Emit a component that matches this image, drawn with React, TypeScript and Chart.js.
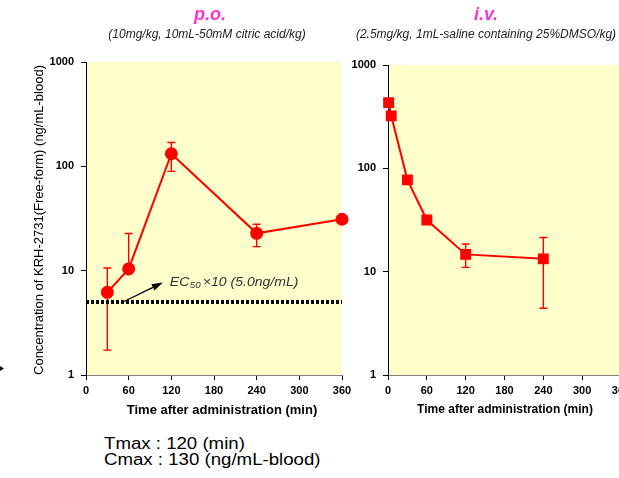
import React, { useEffect, useRef } from 'react';
import { Chart, registerables } from 'chart.js';

Chart.register(...registerables);

const FONT = "'Liberation Sans', Arial, Helvetica, sans-serif";

// ---- data ----
const xTicks = [0, 60, 120, 180, 240, 300, 360];
const yTicks = [1, 10, 100, 1000];

const poTime = [30, 60, 120, 240, 360];
const poConc = [6.2, 10.4, 132, 22.8, 31.1];
const poErrHigh = [10.6, 22.7, 169, 27.9, null];
const poErrLow = [1.73, null, 89.5, 17.0, null];

const ivTime = [1, 5, 30, 60, 120, 240];
const ivConc = [432, 322, 77.4, 31.6, 14.7, 13.3];
const ivErrHigh = [null, null, null, null, 18.5, 21.4];
const ivErrLow = [null, null, null, null, 11.0, 4.42];

const ec50Level = 5.0;
const ec50Span = [0, 360];
const ec50ArrowFrom = [52, 5.0];
const ec50ArrowTo = [108, 7.7];

const poTitle = 'p.o.';
const poSubtitle = '(10mg/kg, 10mL-50mM citric acid/kg)';
const ivTitle = 'i.v.';
const ivSubtitle = '(2.5mg/kg, 1mL-saline containing 25%DMSO/kg)';
const xTitle = 'Time after administration (min)';
const yTitle = 'Concentration of KRH-2731(Free-form) (ng/mL-blood)';
const summaryLines = ['Tmax : 120 (min)', 'Cmax : 130 (ng/mL-blood)'];

const RED = '#FF0000';
const MAGENTA = '#FF33CC';
const PLOT_BG = '#FFFFCC';

function text(ctx: CanvasRenderingContext2D, s: string, x: number, y: number, font: string, color: string, align: CanvasTextAlign = 'center') {
  ctx.save();
  ctx.font = font;
  ctx.fillStyle = color;
  ctx.textAlign = align;
  ctx.textBaseline = 'middle';
  ctx.fillText(s, x, y);
  ctx.restore();
}

const bgPlugin = {
  id: 'plotBg',
  beforeDraw(chart: any) {
    const { ctx, chartArea: a } = chart;
    ctx.save();
    ctx.fillStyle = PLOT_BG;
    ctx.fillRect(a.left + 1, a.top, a.right - a.left - 1, a.bottom - a.top);
    ctx.restore();
  },
};

const errorBarPlugin = {
  id: 'errBars',
  beforeDatasetsDraw(chart: any) {
    const { ctx } = chart;
    const ys = chart.scales.y;
    chart.data.datasets.forEach((ds: any, i: number) => {
      if (!ds.errHigh) return;
      const meta = chart.getDatasetMeta(i);
      ctx.save();
      ctx.strokeStyle = RED;
      ctx.lineWidth = 1.4;
      ctx.setLineDash([]);
      meta.data.forEach((pt: any, j: number) => {
        const x = pt.x;
        const yc = pt.y;
        const ends = [ds.errHigh[j], ds.errLow[j]];
        ends.forEach((v: any) => {
          if (v == null) return;
          const ye = ys.getPixelForValue(v);
          ctx.beginPath();
          ctx.moveTo(x, yc);
          ctx.lineTo(x, ye);
          ctx.moveTo(x - 4, ye);
          ctx.lineTo(x + 4, ye);
          ctx.stroke();
        });
      });
      ctx.restore();
    });
  },
};

function scalesFor(yWidth: number, xHeight: number) {
  return {
    x: {
      type: 'linear',
      min: 0,
      max: 360,
      afterBuildTicks: (s: any) => {
        s.ticks = xTicks.map((v) => ({ value: v }));
      },
      afterFit: (s: any) => {
        s.height = xHeight;
      },
      ticks: {
        autoSkip: false,
        maxRotation: 0,
        color: '#000',
        padding: 4,
        font: { family: FONT, size: 11, weight: 'bold' },
        callback: (v: any) => String(v),
      },
      grid: { drawOnChartArea: false, tickLength: 5, color: '#000', lineWidth: 1 },
      border: { display: true, color: '#808080', width: 1 },
    },
    y: {
      type: 'logarithmic',
      min: 1,
      max: 1000,
      afterBuildTicks: (s: any) => {
        s.ticks = yTicks.map((v) => ({ value: v }));
      },
      afterFit: (s: any) => {
        s.width = yWidth;
      },
      ticks: {
        autoSkip: false,
        color: '#000',
        padding: 7,
        font: { family: FONT, size: 11, weight: 'bold' },
        callback: (v: any) => String(v),
      },
      grid: { drawOnChartArea: false, tickLength: 5, color: '#000', lineWidth: 1 },
      border: { display: true, color: '#000', width: 1 },
    },
  };
}

export default function App() {
  const leftRef = useRef<HTMLCanvasElement>(null);
  const rightRef = useRef<HTMLCanvasElement>(null);

  useEffect(() => {
    const leftDecor = {
      id: 'leftDecor',
      afterDraw(chart: any) {
        const { ctx } = chart;
        const xs = chart.scales.x;
        const ys = chart.scales.y;
        text(ctx, poTitle, 210, 15, `italic bold 18px ${FONT}`, MAGENTA);
        text(ctx, poSubtitle, 207, 35, `italic 12px ${FONT}`, '#222');
        text(ctx, xTitle, 222, 410, `bold 13px ${FONT}`, '#000');
        ctx.save();
        ctx.translate(39, 220);
        ctx.rotate(-Math.PI / 2);
        text(ctx, yTitle, 0, 0, `13px ${FONT}`, '#000');
        ctx.restore();

        // EC50 arrow
        const x0 = xs.getPixelForValue(ec50ArrowFrom[0]);
        const y0 = ys.getPixelForValue(ec50ArrowFrom[1]);
        const x1 = xs.getPixelForValue(ec50ArrowTo[0]);
        const y1 = ys.getPixelForValue(ec50ArrowTo[1]);
        const ang = Math.atan2(y1 - y0, x1 - x0);
        const hl = 11;
        const hw = 3.5;
        const bx = x1 - hl * Math.cos(ang);
        const by = y1 - hl * Math.sin(ang);
        ctx.save();
        ctx.strokeStyle = '#000';
        ctx.fillStyle = '#000';
        ctx.lineWidth = 1.2;
        ctx.beginPath();
        ctx.moveTo(x0, y0);
        ctx.lineTo(bx, by);
        ctx.stroke();
        ctx.beginPath();
        ctx.moveTo(x1, y1);
        ctx.lineTo(bx - hw * Math.sin(ang), by + hw * Math.cos(ang));
        ctx.lineTo(bx + hw * Math.sin(ang), by - hw * Math.cos(ang));
        ctx.closePath();
        ctx.fill();
        ctx.restore();

        // EC50 label (slightly widened, as in the reference)
        ctx.save();
        ctx.translate(x1 + 7, y1);
        ctx.scale(1.08, 1);
        let tx = 0;
        ctx.fillStyle = '#333';
        ctx.textBaseline = 'middle';
        ctx.textAlign = 'left';
        ctx.font = `italic 13px ${FONT}`;
        ctx.fillText('EC', tx, 0);
        tx += ctx.measureText('EC').width + 0.5;
        ctx.font = `italic 9px ${FONT}`;
        ctx.fillText('50', tx, 2.5);
        tx += ctx.measureText('50').width + 2;
        ctx.font = `italic 13px ${FONT}`;
        ctx.fillText('\u00D710 (5.0ng/mL)', tx, 0);
        ctx.restore();

        // small stray arrowhead at far left
        ctx.save();
        ctx.fillStyle = '#000';
        ctx.beginPath();
        ctx.moveTo(0, 366);
        ctx.lineTo(4, 368.5);
        ctx.lineTo(0, 371);
        ctx.closePath();
        ctx.fill();
        ctx.restore();
      },
    };

    const rightDecor = {
      id: 'rightDecor',
      afterDraw(chart: any) {
        const { ctx } = chart;
        text(ctx, ivTitle, 146, 15, `italic bold 18px ${FONT}`, MAGENTA);
        text(ctx, ivSubtitle, 146, 35, `italic 12px ${FONT}`, '#222');
        text(ctx, xTitle, 165, 410, `bold 12px ${FONT}`, '#000');
      },
    };

    const left = new Chart(leftRef.current as HTMLCanvasElement, {
      type: 'scatter',
      data: {
        datasets: [
          {
            data: poTime.map((t, i) => ({ x: t, y: poConc[i] })),
            errHigh: poErrHigh,
            errLow: poErrLow,
            showLine: true,
            borderColor: RED,
            backgroundColor: RED,
            borderWidth: 2,
            pointRadius: 5.5,
            pointHoverRadius: 5.5,
            pointStyle: 'circle',
            clip: false,
          } as any,
          {
            data: ec50Span.map((t) => ({ x: t, y: ec50Level })),
            showLine: true,
            borderColor: '#000',
            borderWidth: 4,
            borderDash: [3, 2],
            pointRadius: 0,
            clip: false,
          },
        ],
      },
      options: {
        responsive: false,
        animation: false,
        events: [],
        layout: { padding: { left: 0, top: 62, right: 18, bottom: 0 } },
        plugins: { legend: { display: false }, tooltip: { enabled: false } },
        scales: scalesFor(86, 55) as any,
      },
      plugins: [bgPlugin, errorBarPlugin, leftDecor],
    });

    const right = new Chart(rightRef.current as HTMLCanvasElement, {
      type: 'scatter',
      data: {
        datasets: [
          {
            data: ivTime.map((t, i) => ({ x: t, y: ivConc[i] })),
            errHigh: ivErrHigh,
            errLow: ivErrLow,
            showLine: true,
            borderColor: RED,
            backgroundColor: RED,
            borderWidth: 2,
            pointRadius: 6.3,
            pointHoverRadius: 6.3,
            pointStyle: 'rect',
            clip: false,
          } as any,
        ],
      },
      options: {
        responsive: false,
        animation: false,
        events: [],
        layout: { padding: { left: 0, top: 65, right: 19, bottom: 0 } },
        plugins: { legend: { display: false }, tooltip: { enabled: false } },
        scales: scalesFor(48, 55) as any,
      },
      plugins: [bgPlugin, errorBarPlugin, rightDecor],
    });

    return () => {
      left.destroy();
      right.destroy();
    };
  }, []);

  return (
    <div
      style={{
        position: 'fixed',
        left: 0,
        top: 0,
        width: 619,
        height: 478,
        overflow: 'hidden',
        background: '#fff',
      }}
    >
      <canvas
        ref={leftRef}
        width={360}
        height={430}
        style={{ position: 'absolute', left: 0, top: 0, width: 360, height: 430, display: 'block' }}
      />
      <canvas
        ref={rightRef}
        width={300}
        height={430}
        style={{ position: 'absolute', left: 340, top: 0, width: 300, height: 430, display: 'block' }}
      />
      <div
        style={{
          position: 'absolute',
          left: 104,
          top: 436,
          fontFamily: FONT,
          fontSize: 16,
          lineHeight: '16px',
          color: '#000',
          whiteSpace: 'nowrap',
          transform: 'scaleX(1.165)',
          transformOrigin: 'left top',
        }}
      >
        {summaryLines.map((l) => (
          <div key={l}>{l}</div>
        ))}
      </div>
    </div>
  );
}
